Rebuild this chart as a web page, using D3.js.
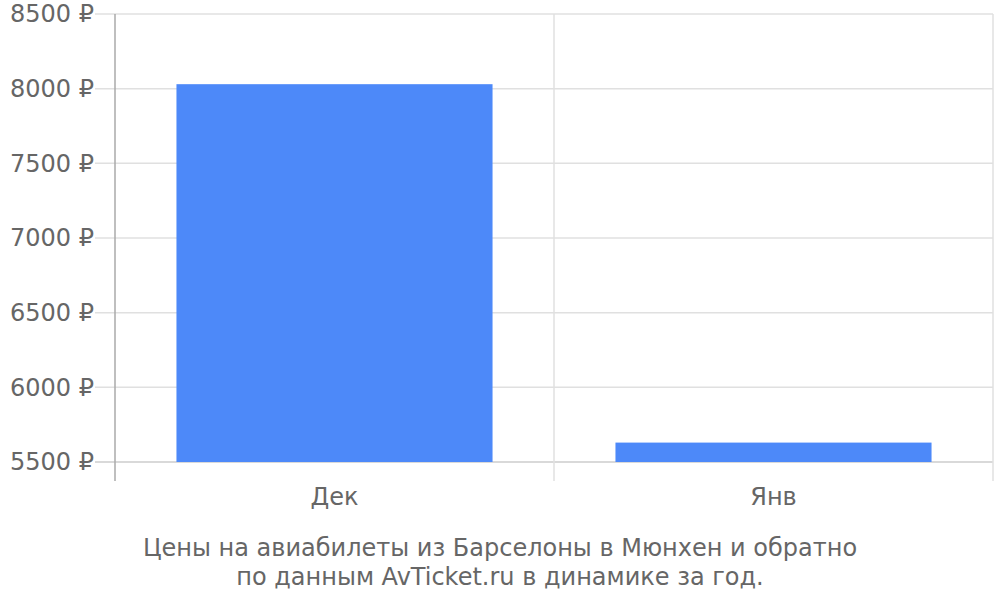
<!DOCTYPE html>
<html>
<head>
<meta charset="utf-8">
<script src="https://cdn.jsdelivr.net/npm/d3@7"></script>
<style>
  body { margin: 0; background: #fff; }
  svg text { font-family: "DejaVu Sans", sans-serif; fill: #666; }
</style>
</head>
<body>
<svg id="chart" width="1000" height="600"></svg>
<script>
// Chart data
const months = ["Дек", "Янв"];
const prices = [8030, 5630];
const yTicks = [5500, 6000, 6500, 7000, 7500, 8000, 8500];
const caption = [
  "Цены на авиабилеты из Барселоны в Мюнхен и обратно",
  "по данным AvTicket.ru в динамике за год."
];

const plotLeft = 115, plotRight = 993, plotTop = 14, plotBottom = 462;

const svg = d3.select("#chart");

const x = d3.scaleBand()
  .domain(months)
  .range([plotLeft, plotRight])
  .paddingInner(0.28)
  .paddingOuter(0.14);

const y = d3.scaleLinear()
  .domain([5500, 8500])
  .range([plotBottom, plotTop]);

// horizontal grid
svg.append("g")
  .selectAll("line")
  .data(yTicks)
  .join("line")
  .attr("x1", plotLeft - 20)
  .attr("x2", plotRight)
  .attr("y1", d => y(d))
  .attr("y2", d => y(d))
  .attr("stroke", d => d === 5500 ? "#ccc" : "#e0e0e0")
  .attr("stroke-width", 1.5);

// vertical grid at band boundaries
const step = x.step();
const bounds = [plotLeft, plotLeft + step, plotRight];
svg.append("g")
  .selectAll("line")
  .data(bounds)
  .join("line")
  .attr("x1", d => d)
  .attr("x2", d => d)
  .attr("y1", plotTop)
  .attr("y2", plotBottom + 19)
  .attr("stroke", (d, i) => i === 0 ? "#aaa" : "#e0e0e0")
  .attr("stroke-width", 1.5);

// bars
svg.append("g")
  .selectAll("rect")
  .data(prices)
  .join("rect")
  .attr("x", (d, i) => x(months[i]))
  .attr("width", x.bandwidth())
  .attr("y", d => y(d))
  .attr("height", d => y(5500) - y(d))
  .attr("fill", "#4d89f9");

// y labels
svg.append("g")
  .selectAll("text")
  .data(yTicks)
  .join("text")
  .attr("x", 94)
  .attr("y", d => y(d))
  .attr("dy", "0.35em")
  .attr("text-anchor", "end")
  .style("font-size", "24px")
  .text(d => d + " ₽");

// x labels
svg.append("g")
  .selectAll("text")
  .data(months)
  .join("text")
  .attr("x", d => x(d) + x.bandwidth() / 2)
  .attr("y", 505)
  .attr("text-anchor", "middle")
  .style("font-size", "24px")
  .text(d => d);

// caption
svg.append("g")
  .selectAll("text")
  .data(caption)
  .join("text")
  .attr("x", 500)
  .attr("y", (d, i) => 556 + i * 29)
  .attr("text-anchor", "middle")
  .style("font-size", "24px")
  .text(d => d);
</script>
</body>
</html>
